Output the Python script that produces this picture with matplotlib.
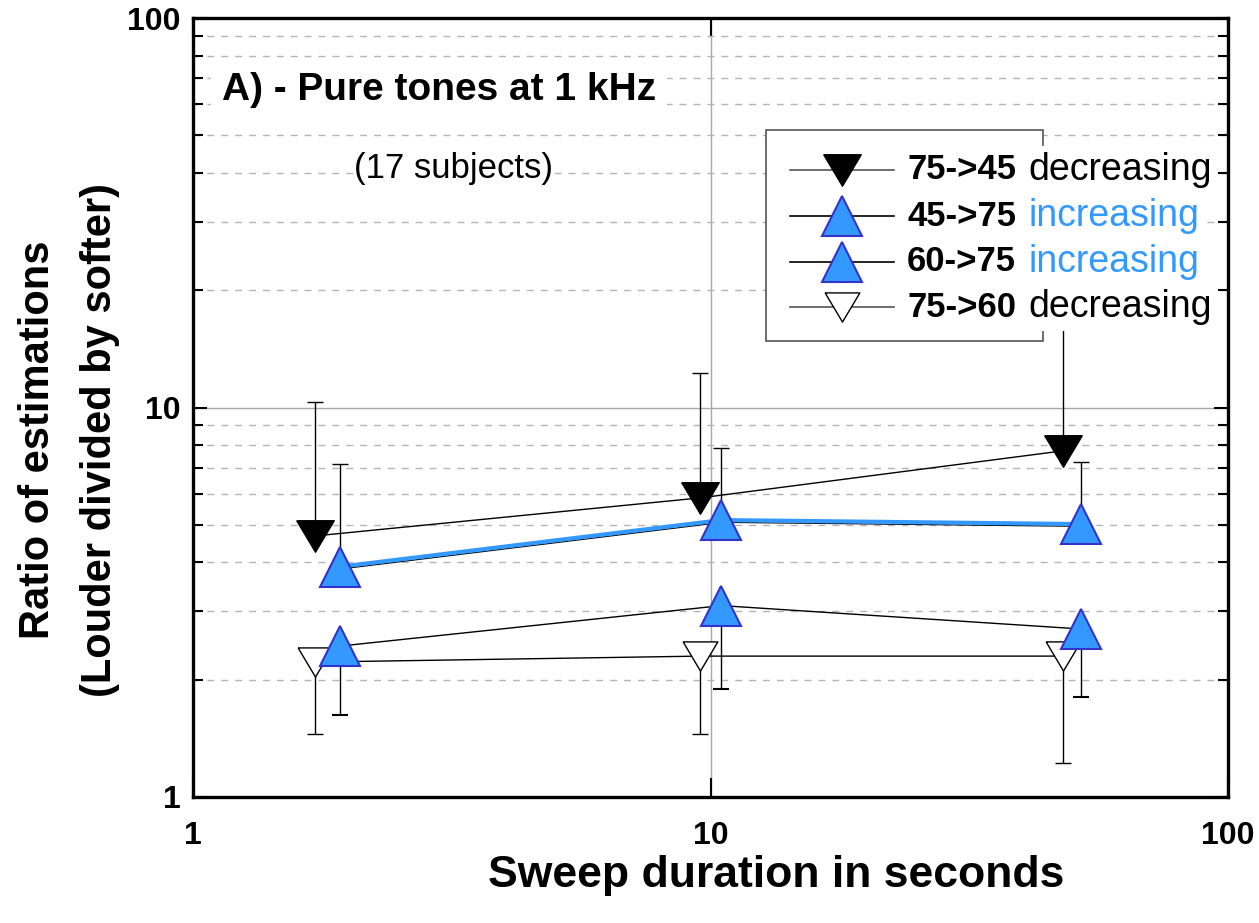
import matplotlib
matplotlib.use("Agg")
import matplotlib.pyplot as plt
import matplotlib.patheffects as pe
from matplotlib.lines import Line2D
from matplotlib.patches import Rectangle
from matplotlib.ticker import NullFormatter, LogLocator

plt.rcParams['font.family'] = ['Liberation Sans', 'DejaVu Sans']

# sweep durations (s), slightly offset so the groups don't overlap
x_down = [1.72, 9.55, 48.0]
x_up = [1.92, 10.5, 52.0]

# loudness ratio estimates, one series per sweep direction
dec_75_45 = [4.68, 5.86, 7.74]
dec_75_45_hi = [10.33, 12.26, 16.0]
inc_45_75 = [3.90, 5.14, 5.02]
inc_45_75_hi = [7.16, 7.87, 7.25]
inc_60_75 = [2.44, 3.10, 2.70]
inc_60_75_lo = [1.62, 1.89, 1.81]
dec_75_60 = [2.22, 2.30, 2.30]
dec_75_60_lo = [1.45, 1.45, 1.22]

labels_bold = ['75->45', '45->75', '60->75', '75->60']
labels_word = ['decreasing', 'increasing', 'increasing', 'decreasing']

BLUE = '#3399ff'
BLUE_EDGE = '#3333cc'
# flattened down-pointing triangle
DOWN = [(-1, 0.84), (1, 0.84), (0, -0.84), (-1, 0.84)]

fig = plt.figure(figsize=(12.59, 9.23), dpi=100)
ax = fig.add_axes([193 / 1259, 1 - 797 / 923, 1035 / 1259, 779 / 923])
ax.set_xscale('log')
ax.set_yscale('log')
ax.set_xlim(1, 100)
ax.set_ylim(1, 100)

eb = dict(ecolor='black', elinewidth=1, capsize=6, capthick=1)

# decreasing 75->45 : black down triangles, upper error only
y = dec_75_45
ax.errorbar(x_down, y, yerr=[[0] * 3, [h - v for h, v in zip(dec_75_45_hi, y)]],
            color='black', lw=1, marker=DOWN, ms=27, mfc='black', mec='black', zorder=4, **eb)

# decreasing 75->60 : open down triangles, lower error only
y = dec_75_60
ax.errorbar(x_down, y, yerr=[[v - l for v, l in zip(y, dec_75_60_lo)], [0] * 3],
            color='black', lw=1, marker=DOWN, ms=25, mfc='white', mec='black', mew=1,
            zorder=4, **eb)

# increasing 60->75 : blue triangles, lower error only
y = inc_60_75
ax.errorbar(x_up, y, yerr=[[v - l for v, l in zip(y, inc_60_75_lo)], [0] * 3],
            color='black', lw=1, marker='^', ms=29, mfc=BLUE, mec=BLUE_EDGE, mew=1.5,
            zorder=5, **eb)

# increasing 45->75 : blue triangles with a blue line, upper error only
y = inc_45_75
ax.errorbar(x_up, y, yerr=[[0] * 3, [h - v for h, v in zip(inc_45_75_hi, y)]],
            fmt='none', zorder=5, **eb)
ax.plot(x_up, y, color=BLUE, lw=3, zorder=5,
        path_effects=[pe.SimpleLineShadow(offset=(0.5, -1.6), shadow_color='black',
                                          alpha=1, linewidth=0.9), pe.Normal()])
ax.plot(x_up, y, ls='none', marker='^', ms=29, mfc=BLUE, mec=BLUE_EDGE, mew=1.5, zorder=6)

# grid and ticks
ax.yaxis.set_minor_locator(LogLocator(base=10, subs=range(2, 10)))
ax.xaxis.set_minor_locator(LogLocator(base=10, subs=[]))
ax.grid(True, which='major', color='#a8a8a8', lw=1)
ax.grid(True, which='minor', axis='y', color='#b4b4b4', lw=1, ls=(0, (5, 5)))
ax.set_axisbelow(True)
ax.set_xticks([1, 10, 100])
ax.set_xticklabels(['1', '10', '100'])
ax.set_yticks([1, 10, 100])
ax.set_yticklabels(['1', '10', '100'])
ax.yaxis.set_minor_formatter(NullFormatter())
ax.xaxis.set_minor_formatter(NullFormatter())
ax.tick_params(axis='x', which='major', direction='in', top=True, length=14, width=1.5,
               pad=17, labelsize=23)
ax.tick_params(axis='y', which='major', direction='in', right=True, length=10, width=1.5,
               pad=9, labelsize=23)
ax.tick_params(axis='y', which='minor', direction='in', right=True, length=7, width=1.5)
for lab in ax.get_xticklabels() + ax.get_yticklabels():
    lab.set_fontweight('bold')
for sp in ax.spines.values():
    sp.set_linewidth(2.4)

ax.set_xlabel('Sweep duration in seconds', fontsize=32, fontweight='bold')
ax.xaxis.set_label_coords(0.563, -0.075)
ax.set_ylabel('Ratio of estimations\n(Louder divided by softer)', fontsize=30,
              fontweight='bold', va='center', linespacing=1.7)
ax.yaxis.set_label_coords(-0.12, 0.458)

ax.text(0.028, 0.8947, 'A) - Pure tones at 1 kHz', transform=ax.transAxes,
        fontsize=28, fontweight='bold', va='baseline', zorder=7,
        bbox=dict(facecolor='white', edgecolor='none', pad=8))
ax.text(0.1556, 0.7946, '(17 subjects)', transform=ax.transAxes, fontsize=25,
        va='baseline', zorder=7,
        bbox=dict(facecolor='white', edgecolor='none', pad=1))

# hand-built legend box
ax.add_patch(Rectangle((0.5536, 0.5854), 0.8213 - 0.5536, 0.8562 - 0.5854,
                       transform=ax.transAxes, facecolor='white', edgecolor='#555555',
                       lw=1.2, zorder=7))
rows = [0.8049, 0.7458, 0.6868, 0.6290]
handles = [dict(marker=DOWN, ms=27, mfc='black', mec='black', color='#555555'),
           dict(marker='^', ms=29, mfc=BLUE, mec=BLUE_EDGE, mew=1.5, color='black'),
           dict(marker='^', ms=29, mfc=BLUE, mec=BLUE_EDGE, mew=1.5, color='black'),
           dict(marker=DOWN, ms=25, mfc='white', mec='black', mew=1, color='#555555')]
word_colors = ['black', BLUE, BLUE, 'black']
for yr, h, lb, lw_, wc in zip(rows, handles, labels_bold, labels_word, word_colors):
    ax.add_line(Line2D([0.5768, 0.6773], [yr, yr], transform=ax.transAxes, lw=1.2,
                       zorder=8, color=h['color']))
    ax.add_line(Line2D([0.6271], [yr], transform=ax.transAxes, ls='none', zorder=8,
                       **{k: v for k, v in h.items() if k != 'color'}))
    t = ax.text(0.6899, yr, lb, transform=ax.transAxes, fontsize=25, fontweight='bold',
                va='center', zorder=9, clip_on=False)
    ax.annotate(lw_, xy=(1, 0.5), xycoords=t, xytext=(9, 0), textcoords='offset points',
                va='center', ha='left', fontsize=27, color=wc, zorder=9,
                annotation_clip=False,
                bbox=dict(facecolor='white', edgecolor='none', pad=4))

fig.savefig('out.png', dpi=100)
